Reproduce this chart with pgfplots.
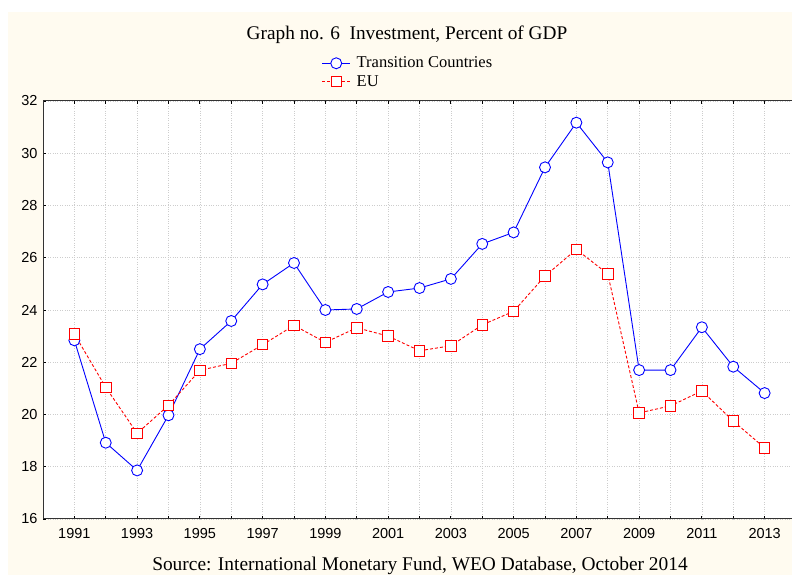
\documentclass[border=0pt]{standalone}
\usepackage{pgfplots}
\pgfplotsset{compat=1.18}
\usepackage{fontspec}
\setmainfont{Liberation Serif}
\setsansfont{Liberation Sans}
\definecolor{cream}{RGB}{255,251,240}
\definecolor{gridgray}{RGB}{205,205,205}

\begin{document}
\begin{tikzpicture}[x=1pt,y=1pt]
\useasboundingbox (0,0) rectangle (792,575);
\fill[white] (0,0) rectangle (792,575);
\fill[cream] (8,0) rectangle (792,563);
\node[font=\fontsize{19.3}{22}\selectfont] at (407,540) {Graph no. 6\ \ Investment, Percent of GDP};
\node[font=\fontsize{19.4}{22}\selectfont, anchor=base] at (420,4) {Source: International Monetary Fund, WEO Database, October 2014};
\begin{axis}[
    at={(43pt,56pt)},
    anchor=south west,
    scale only axis,
    width=753pt,
    height=418pt,
    xmin=1990, xmax=2014,
    ymin=16, ymax=32,
    xtick={1991,1993,...,2013},
    minor xtick={1992,1994,...,2012},
    ytick={16,18,...,32},
    grid=both,
    major grid style={gridgray, dotted, line width=0.6pt},
    minor grid style={gridgray, dotted, line width=0.6pt},
    tick align=inside,
    major tick length=3pt,
    minor tick length=3pt,
    tick style={black, line width=0.8pt},
    axis x line=box,
    axis y line*=left,
    axis line style={black!80, line width=1pt},
    axis background/.style={fill=white},
    ticklabel style={font=\sffamily\fontsize{14.5}{17}\selectfont, /pgf/number format/assume math mode=true},
    /pgf/number format/1000 sep={},
    xticklabel style={yshift=-6pt},
    yticklabel style={xshift=-2pt},
    legend style={
        at={(408pt-43pt,418pt+11pt)},
        anchor=south,
        draw=none,
        fill=none,
        font=\fontsize{16.5}{19}\selectfont,
        row sep=2pt,
        inner sep=0pt,
        cells={anchor=west},
        /tikz/every odd column/.append style={column sep=4pt},
    },
    legend image code/.code={
        \draw[mark repeat=2, mark phase=2, #1] plot coordinates {(0pt,0pt) (14pt,0pt) (28pt,0pt)};
    },
]
\addplot[blue, line width=0.9pt, mark=*, mark size=5.5pt, mark options={fill=white, draw=blue, line width=0.9pt}]
coordinates {
(1991,22.84) (1992,18.92) (1993,17.86) (1994,19.97) (1995,22.50)
(1996,23.58) (1997,24.98) (1998,25.80) (1999,24.00) (2000,24.04)
(2001,24.69) (2002,24.84) (2003,25.19) (2004,26.53) (2005,26.97)
(2006,29.46) (2007,31.17) (2008,29.65) (2009,21.70) (2010,21.70)
(2011,23.34) (2012,21.83) (2013,20.82)
};
\addlegendentry{Transition Countries}
\addplot[red, line width=0.9pt, densely dashed, mark=square*, mark size=5.2pt, mark options={solid, fill=white, draw=red, line width=0.9pt}]
coordinates {
(1991,23.08) (1992,21.04) (1993,19.28) (1994,20.35) (1995,21.69)
(1996,21.96) (1997,22.67) (1998,23.41) (1999,22.76) (2000,23.32)
(2001,23.00) (2002,22.44) (2003,22.63) (2004,23.43) (2005,23.95)
(2006,25.30) (2007,26.32) (2008,25.38) (2009,20.06) (2010,20.33)
(2011,20.90) (2012,19.75) (2013,18.72)
};
\addlegendentry{EU}
\end{axis}
\end{tikzpicture}
\end{document}
